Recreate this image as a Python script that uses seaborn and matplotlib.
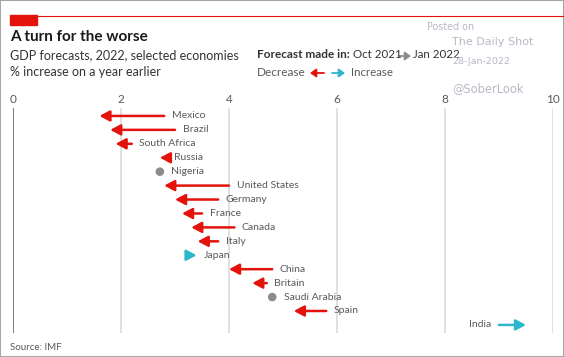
import numpy as np
import pandas as pd
import matplotlib.pyplot as plt
import matplotlib.patches as mpatches
import matplotlib.lines as mlines
import seaborn as sns

# GDP forecasts for 2022, % increase on a year earlier
countries = ["Mexico", "Brazil", "South Africa", "Russia", "Nigeria", "United States",
             "Germany", "France", "Canada", "Italy", "Japan", "China", "Britain",
             "Saudi Arabia", "Spain", "India"]
oct_2021 = [2.8, 3.0, 2.2, 2.85, 2.72, 4.0, 3.8, 3.5, 4.1, 3.8, 3.28, 4.8, 4.7, 4.8, 5.8, 9.0]
jan_2022 = [1.6, 1.8, 1.9, 2.72, 2.72, 2.8, 3.0, 3.13, 3.3, 3.42, 3.4, 4.0, 4.43, 4.8, 5.2, 9.5]
x_ticks = [0, 2, 4, 6, 8, 10]

RED = "#e3120b"
CYAN = "#2bb6c9"
GREY_TXT = "#595959"

sns.set_theme(style="white")
plt.rcParams["font.family"] = ["Lato", "DejaVu Sans"]

W, H = 564, 357


def px(x, y):
    return x / W, 1 - y / H


df = pd.DataFrame({"country": countries, "old": oct_2021, "new": jan_2022})
df["row"] = np.arange(len(df))
df["change"] = df["new"] - df["old"]

fig = plt.figure(figsize=(W / 100, H / 100), dpi=100)
ax = fig.add_axes([13 / W, 1 - 333 / H, 540 / W, 225 / H])

# arrows
for _, r in df.iterrows():
    if abs(r["change"]) < 0.01:
        continue
    col = RED if r["change"] < 0 else CYAN
    ax.annotate("", xy=(r["new"], r["row"]), xytext=(r["old"], r["row"]),
                arrowprops=dict(arrowstyle="-|>,head_length=0.6,head_width=0.32",
                                color=col, lw=1.8, shrinkA=0, shrinkB=0,
                                mutation_scale=10), zorder=3)

# unchanged forecasts as dots
same = df[df["change"].abs() < 0.01]
sns.scatterplot(data=same, x="new", y="row", color="#8c8c8c", s=38,
                edgecolor="none", ax=ax, zorder=3, legend=False)

# labels
for _, r in df.iterrows():
    hi = max(r["old"], r["new"])
    if r["country"] == "India":
        ax.text(min(r["old"], r["new"]) - 0.15, r["row"], r["country"], ha="right",
                va="center", fontsize=7.5, color=GREY_TXT)
    else:
        off = 0.21 if abs(r["change"]) < 0.01 else 0.14
        ax.text(hi + off, r["row"], r["country"], ha="left", va="center",
                fontsize=7.5, color=GREY_TXT)

ax.set_xlim(0, 10)
ax.set_ylim(15.58, -0.57)
ax.set_xticks(x_ticks)
ax.set_yticks([])
ax.xaxis.tick_top()
ax.tick_params(axis="x", length=0, pad=2, labelsize=8.5, labelcolor=GREY_TXT)
for t in x_ticks:
    ax.axvline(t, color="#555555" if t == 0 else "#d9d9d9", lw=1.1, zorder=1)
for s in ax.spines.values():
    s.set_visible(False)
ax.set_xlabel("")
ax.set_ylabel("")
ax.patch.set_alpha(0)

# header
fig.patches.append(mpatches.Rectangle(px(10, 25), 27 / W, 10 / H, transform=fig.transFigure,
                                      color=RED, zorder=5))
fig.lines.append(mlines.Line2D([10 / W, 1], [1 - 15.5 / H] * 2, transform=fig.transFigure,
                               color=RED, lw=0.8))
fig.text(*px(10, 37), "A turn for the worse", fontsize=11, fontweight="bold",
         color="#1a1a1a", va="center")
fig.text(*px(10, 55), "GDP forecasts, 2022, selected economies", fontsize=9,
         color="#333333", va="center")
fig.text(*px(10, 72), "% increase on a year earlier", fontsize=9, color="#333333", va="center")

fig.text(*px(257, 55), "Forecast made in:", fontsize=8.5, fontweight="bold",
         color="#333333", va="center")
fig.text(*px(353, 55), "Oct 2021", fontsize=8.3, color="#333333", va="center")
fig.text(*px(413, 55), "Jan 2022", fontsize=8.3, color="#333333", va="center")
fig.text(*px(257, 72), "Decrease", fontsize=8.5, color=GREY_TXT, va="center")
fig.text(*px(351, 72), "Increase", fontsize=8.3, color=GREY_TXT, va="center")
for x0, x1, yy, c in [(399, 411, 56, "#8c8c8c"), (324, 310, 73, RED), (332, 345, 73, CYAN)]:
    fig.add_artist(mpatches.FancyArrowPatch(px(x0, yy), px(x1, yy), transform=fig.transFigure,
                                            arrowstyle="-|>,head_length=0.35,head_width=0.25",
                                            mutation_scale=10, color=c, lw=1.3,
                                            shrinkA=0, shrinkB=0))

# watermark
WM = "#b8b8c6"
fig.text(*px(427, 27), "Posted on", fontsize=6.9, color=WM, va="center",
         family="DejaVu Sans")
fig.text(*px(452, 42), "The Daily Shot", fontsize=8, color=WM, va="center",
         family="DejaVu Sans")
fig.text(*px(452, 61), "28-Jan-2022", fontsize=6.8, color=WM, va="center",
         family="DejaVu Sans")
fig.text(*px(452, 89), "@SoberLook", fontsize=8.3, color=WM, va="center",
         family="DejaVu Sans")

fig.text(*px(10, 347), "Source: IMF", fontsize=7, color=GREY_TXT, va="center")

fig.patches.append(mpatches.Rectangle((0, 0), 1, 1, transform=fig.transFigure, fill=False,
                                      ec="#a6a6a6", lw=1.5))

fig.savefig("out.png", dpi=100, facecolor="white")
